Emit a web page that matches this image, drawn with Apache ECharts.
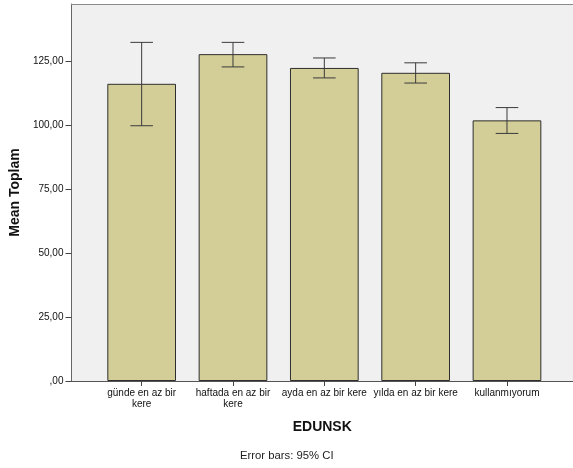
<!DOCTYPE html>
<html>
<head>
<meta charset="utf-8">
<script src="https://cdn.jsdelivr.net/npm/echarts@6/dist/echarts.min.js"></script>
<style>
  html, body { margin: 0; padding: 0; background: #ffffff; }
  #chart { width: 573px; height: 468px; }
</style>
</head>
<body>
<div id="chart"></div>
<script>
// Mean Toplam by EDUNSK with 95% confidence intervals
const categories = ['günde en az bir\nkere', 'haftada en az bir\nkere', 'ayda en az bir kere', 'yılda en az bir kere', 'kullanmıyorum'];
const means = [116.2, 127.8, 122.4, 120.5, 101.9];
const ciLower = [99.8, 122.8, 118.5, 116.5, 96.8];
const ciUpper = [132.4, 132.4, 126.3, 124.4, 106.9];
const yTicks = [0, 25, 50, 75, 100, 125];
const yTickLabels = [',00', '25,00', '50,00', '75,00', '100,00', '125,00'];
const yMax = 147.4;

const FONT = 'Liberation Sans, Arial, sans-serif';
const chart = echarts.init(document.getElementById('chart'), null, { renderer: 'canvas' });

const errorData = categories.map((c, i) => [i, ciLower[i], ciUpper[i]]);

chart.setOption({
  animation: false,
  backgroundColor: '#ffffff',
  grid: [
    // outer frame carrying the value axis and the axis title
    { left: 70, right: -6, top: 4, bottom: 87, show: true, backgroundColor: '#F0F0F0', borderWidth: 0 },
    // inner band holding the bars
    { left: 96, right: 20.35, top: 4, bottom: 87 }
  ],
  xAxis: [
    { gridIndex: 0, type: 'value', min: 0, max: 1, position: 'bottom',
      axisLine: { show: true, lineStyle: { color: '#555', width: 1 } },
      axisTick: { show: false }, axisLabel: { show: false }, splitLine: { show: false },
      name: 'EDUNSK', nameLocation: 'middle', nameGap: 39,
      nameTextStyle: { fontFamily: FONT, fontSize: 14, fontWeight: 'bold', color: '#111' } },
    { gridIndex: 1, type: 'category', data: categories,
      axisLine: { show: false },
      axisTick: { show: true, alignWithLabel: true, length: 5, lineStyle: { color: '#444' } },
      axisLabel: { margin: 7, fontFamily: FONT, fontSize: 10, color: '#111', lineHeight: 11, interval: 0 },
      splitLine: { show: false } },
    // top edge of the frame
    { gridIndex: 0, type: 'value', min: 0, max: 1, position: 'top',
      axisLine: { show: true, lineStyle: { color: '#8a8a8a', width: 1 } },
      axisTick: { show: false }, axisLabel: { show: false }, splitLine: { show: false } }
  ],
  yAxis: [
    { gridIndex: 0, type: 'value', min: 0, max: yMax,
      axisLine: { show: true, lineStyle: { color: '#666', width: 1 } },
      axisTick: { show: true, length: 6, customValues: yTicks, lineStyle: { color: '#444' } },
      axisLabel: { customValues: yTicks, margin: 8, fontFamily: FONT, fontSize: 10, color: '#111',
        formatter: v => yTickLabels[yTicks.indexOf(v)] ?? '' },
      splitLine: { show: false },
      name: 'Mean Toplam', nameLocation: 'middle', nameGap: 45, nameRotate: 90,
      nameTextStyle: { fontFamily: FONT, fontSize: 14, fontWeight: 'bold', color: '#111' } },
    { gridIndex: 1, type: 'value', min: 0, max: yMax, show: false, splitLine: { show: false } }
  ],
  series: [
    { type: 'bar', xAxisIndex: 1, yAxisIndex: 1, data: means, barWidth: 68.7,
      itemStyle: { color: '#D3CE98', borderColor: '#2e2e2e', borderWidth: 1 } },
    { type: 'custom', xAxisIndex: 1, yAxisIndex: 1, data: errorData, z: 10,
      renderItem: function (params, api) {
        const x = api.value(0);
        const lo = api.coord([x, api.value(1)]);
        const hi = api.coord([x, api.value(2)]);
        const hw = 11.3;
        const style = { stroke: '#3a3a3a', lineWidth: 1 };
        return { type: 'group', children: [
          { type: 'line', shape: { x1: lo[0], y1: lo[1], x2: hi[0], y2: hi[1] }, style },
          { type: 'line', shape: { x1: hi[0] - hw, y1: hi[1], x2: hi[0] + hw, y2: hi[1] }, style },
          { type: 'line', shape: { x1: lo[0] - hw, y1: lo[1], x2: lo[0] + hw, y2: lo[1] }, style }
        ] };
      } }
  ],
  graphic: [
    { type: 'text', left: 240, top: 450,
      style: { text: 'Error bars: 95% CI', fontFamily: FONT, fontSize: 11.3, fill: '#222' } }
  ]
});
</script>
</body>
</html>
